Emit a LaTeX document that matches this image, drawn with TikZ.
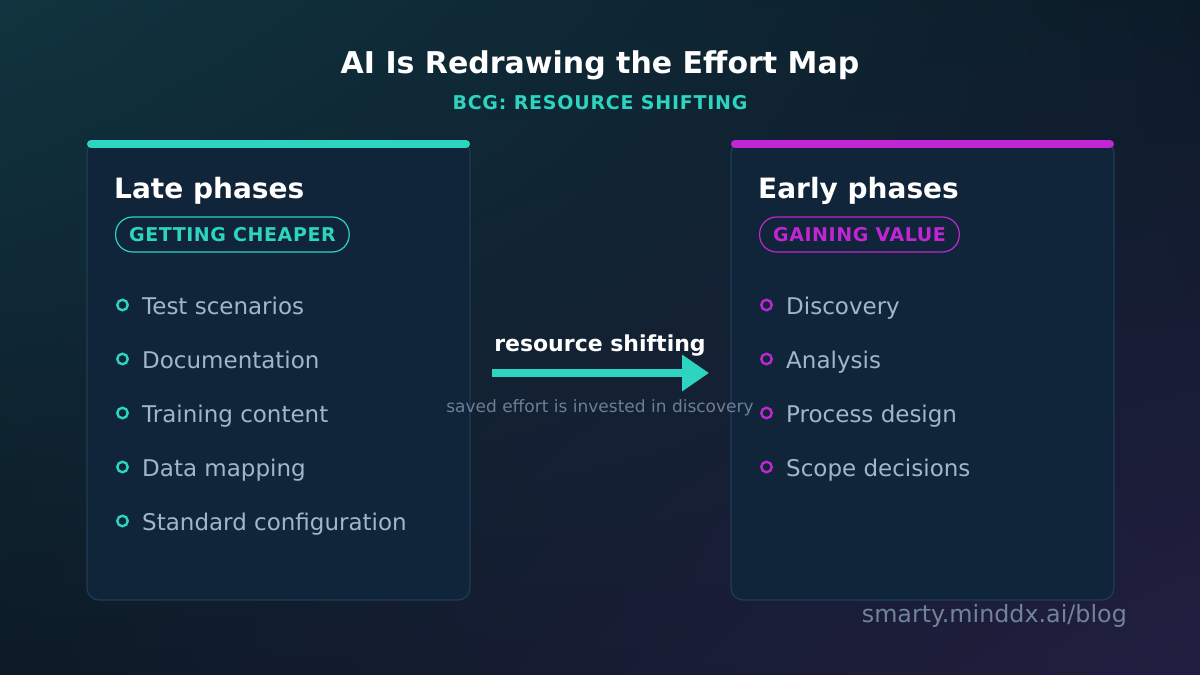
\documentclass[tikz,border=0pt]{standalone}
\usepackage{fontspec}
\setmainfont{DejaVu Sans}
\usetikzlibrary{arrows.meta,shadings}
\definecolor{bgA}{HTML}{10343F}
\definecolor{bgB}{HTML}{0C1B28}
\definecolor{bgC}{HTML}{0C1A26}
\definecolor{bgD}{HTML}{221E40}
\definecolor{cardfill}{HTML}{11253A}
\definecolor{cardline}{HTML}{1F3C54}
\definecolor{tealc}{HTML}{2DD4BF}
\definecolor{magc}{HTML}{C026D3}
\definecolor{itemc}{HTML}{A3B5CA}
\definecolor{mutedc}{HTML}{6C7F94}
\definecolor{footc}{HTML}{71839A}
\tikzset{
  card/.style={draw=cardline, line width=1.2pt, fill=cardfill, rounded corners=12pt},
  cardtitle/.style={anchor=base west, text=white, font=\fontsize{28}{32}\selectfont\bfseries, inner sep=0},
  pill/.style={draw=#1, line width=1.2pt, rounded corners=17pt, text=#1, minimum height=35pt, inner xsep=13.5pt, inner ysep=0pt, anchor=west, font=\fontsize{19}{22}\selectfont\bfseries\addfontfeatures{LetterSpace=3}},
  ring/.style={circle, draw=#1, line width=2.4pt, minimum size=10.5pt, inner sep=0pt},
  item/.style={anchor=base west, text=itemc, font=\fontsize{23}{27}\selectfont, inner sep=0},
}
\begin{document}
\begin{tikzpicture}[x=1pt,y=-1pt]
\useasboundingbox (0,0) rectangle (1200,675);
\shade[upper left=bgA, upper right=bgB, lower left=bgC, lower right=bgD] (0,0) rectangle (1200,675);
% title
\node[anchor=base, text=white, font=\fontsize{30}{36}\selectfont\bfseries, inner sep=0] (title) at (600,73) {AI Is Redrawing the Effort Map};
\node[anchor=base, text=tealc, font=\fontsize{19}{22}\selectfont\bfseries\addfontfeatures{LetterSpace=4}, inner sep=0] (sub) at (600,109) {BCG: RESOURCE SHIFTING};
% cards
\draw[card] (87,141) rectangle (470,600);
\node[inner sep=0, minimum width=383pt, minimum height=460pt, anchor=north west] (left) at (87,140) {};
\draw[tealc, line width=8pt, line cap=round] (91,144) -- (466,144);
\draw[card] (731,141) rectangle (1114,600);
\node[inner sep=0, minimum width=383pt, minimum height=460pt, anchor=north west] (right) at (731,140) {};
\draw[magc, line width=8pt, line cap=round] (735,144) -- (1110,144);
% left content
\node[cardtitle] (lt) at (114,198) {Late phases};
\node[pill=tealc] (lp) at (115,234.5) {GETTING CHEAPER};
\foreach \t [count=\i] in {Test scenarios, Documentation, Training content, Data mapping, Standard configuration}{
  \node[ring=tealc] (lr\i) at (122.5,251+54*\i) {};
  \node[item] (li\i) at (142,260+54*\i) {\t};
}
% right content
\node[cardtitle] (rt) at (758,198) {Early phases};
\node[pill=magc] (rp) at (759,234.5) {GAINING VALUE};
\foreach \t [count=\i] in {Discovery, Analysis, Process design, Scope decisions}{
  \node[ring=magc] (rr\i) at (766.5,251+54*\i) {};
  \node[item] (ri\i) at (786,260+54*\i) {\t};
}
% arrow
\coordinate (a1) at (492,373);
\coordinate (a2) at (709,373);
\draw[tealc, line width=8pt, -{Triangle[length=27pt,width=35pt]}] (a1) -- (a2);
\node[anchor=base, text=white, font=\fontsize{22}{26}\selectfont\bfseries, inner sep=0] (al) at (600,351) {resource shifting};
\node[anchor=base, text=mutedc, font=\fontsize{17}{20}\selectfont, inner sep=0] (as) at (600,412) {saved effort is invested in discovery};
% footer
\node[anchor=base east, text=footc, font=\fontsize{23.8}{28}\selectfont, inner sep=0] (foot) at (1127,622) {smarty.minddx.ai/blog};
\end{tikzpicture}
\end{document}
